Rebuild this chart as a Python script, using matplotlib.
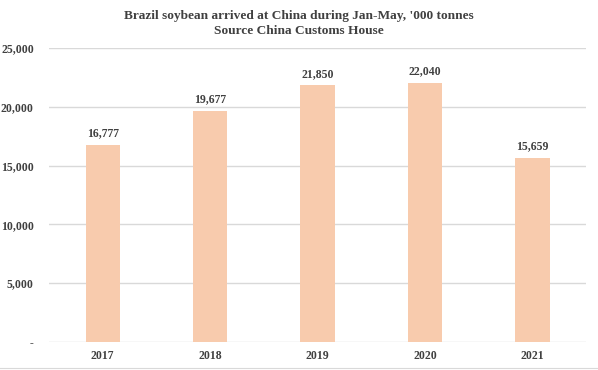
import matplotlib
matplotlib.use('Agg')
import matplotlib.pyplot as plt
from matplotlib.lines import Line2D
from matplotlib.ticker import FuncFormatter

years = ['2017', '2018', '2019', '2020', '2021']
arrivals = [16777, 19677, 21850, 22040, 15659]
y_ticks = [0, 5000, 10000, 15000, 20000, 25000]

plt.rcParams['font.family'] = ['Liberation Serif', 'DejaVu Serif']
text_color = '#404040'

fig = plt.figure(figsize=(5.98, 3.70), dpi=100)
ax = fig.add_axes([0.082, 0.076, 0.898, 0.794])

x = range(len(years))
ax.bar(x, arrivals, width=0.32, color='#F8CBAD', zorder=3)

for xi, v in zip(x, arrivals):
    ax.text(xi, v + 450, f'{v:,}', ha='center', va='bottom',
            fontsize=8.5, fontweight='bold', color=text_color)

ax.set_xlim(-0.5, len(years) - 0.5)
ax.set_ylim(0, 25000)
ax.set_yticks(y_ticks)
ax.yaxis.set_major_formatter(FuncFormatter(lambda v, p: '-' if v == 0 else f'{int(v):,}'))
ax.set_xticks(list(x))
ax.set_xticklabels(years)

ax.grid(axis='y', color='#D9D9D9', linewidth=1, zorder=0)
for s in ['top', 'right', 'left', 'bottom']:
    ax.spines[s].set_visible(False)
ax.tick_params(axis='both', length=0, labelsize=8.5, labelcolor=text_color)
ax.tick_params(axis='y', pad=11)
ax.tick_params(axis='x', pad=6)
for lab in ax.get_xticklabels() + ax.get_yticklabels():
    lab.set_fontweight('bold')

fig.text(0.5, 0.937, "Brazil soybean arrived at China during Jan-May, '000 tonnes\nSource China Customs House",
         ha='center', va='center', fontsize=9.6, fontweight='bold', color=text_color,
         linespacing=1.3)

# faint sheet border at bottom
fig.add_artist(Line2D([0, 1], [0.006, 0.006], color='#D9D9D9', linewidth=0.8))

fig.savefig('out.png', dpi=100)
